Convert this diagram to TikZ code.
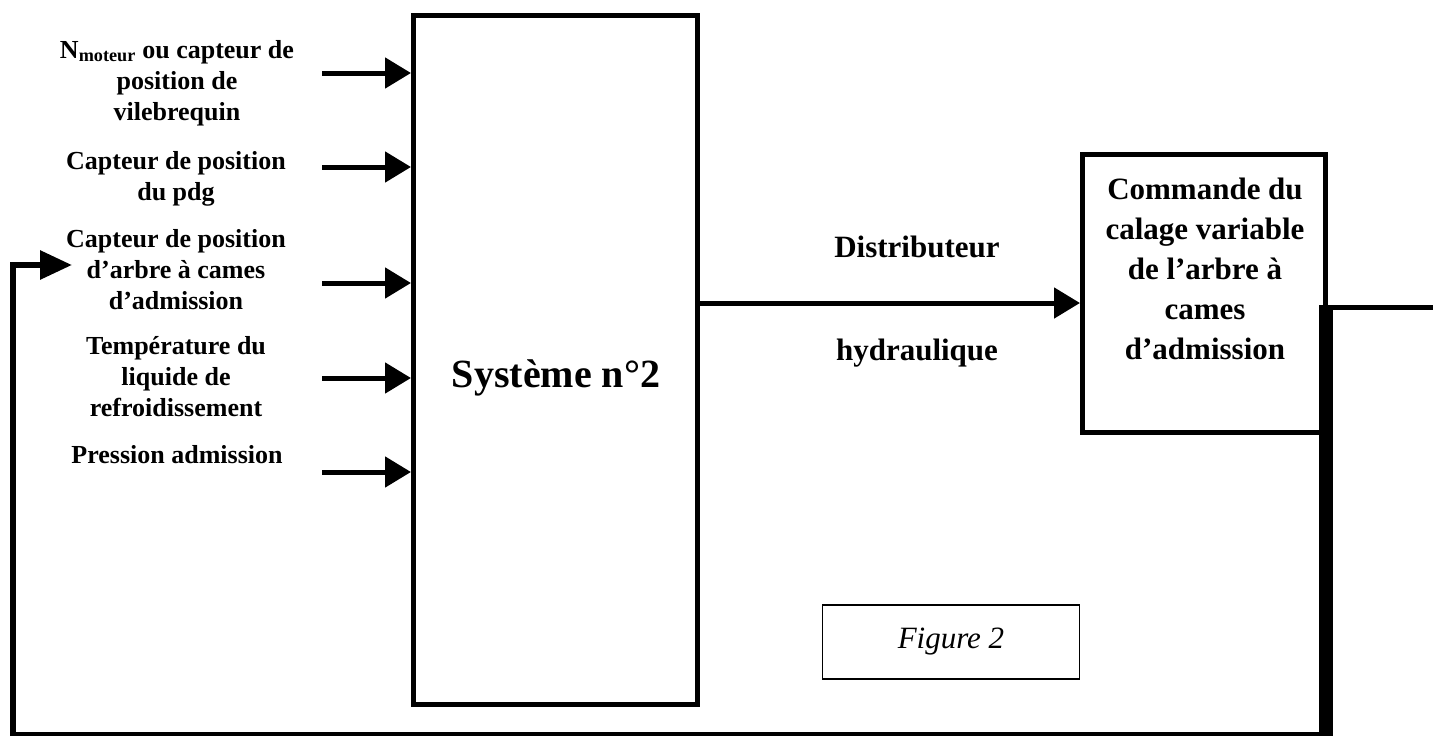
\documentclass[tikz,border=0pt]{standalone}
\usepackage{fontspec}
\setmainfont{Liberation Serif}
\usetikzlibrary{arrows.meta}

\begin{document}
\begin{tikzpicture}[x=1pt, y=-1pt,
    box/.style={draw, line width=5pt, inner sep=0pt},
    lbl/.style={font=\bfseries\fontsize{26}{31}\selectfont, align=center},
    wire/.style={line width=5pt},
    feed/.style={-{Triangle[length=26pt, width=30pt]}, line width=5pt}]
     \useasboundingbox (0,0) rectangle (1433,736);

     % blocs
     \node[box, minimum width=284pt, minimum height=689pt] (S) at (555.5,360) {};
     \node[font=\bfseries\fontsize{40}{48}\selectfont] (St) at (556,378) {Système n°2};
     \node[box, minimum width=243pt, minimum height=278pt] (C) at (1204,293.5) {};
     \node[font=\bfseries\fontsize{31}{40}\selectfont, align=center] (Ct) at (1205,269)
          {Commande du\\calage variable\\de l'arbre à\\cames\\d'admission};
     \node[draw, line width=1.5pt, minimum width=257pt, minimum height=74pt,
           font=\itshape\fontsize{31}{36}\selectfont] (F) at (951,642) {Figure 2};

     % entrees
     \node[lbl] (L1) at (177,83) {N\textsubscript{moteur} ou capteur de\\position de\\vilebrequin};
     \node[lbl] (L2) at (176,179) {Capteur de position\\du pdg};
     \node[lbl] (L3) at (176,270) {Capteur de position\\d'arbre à cames\\d'admission};
     \node[lbl] (L4) at (176,377) {Température du\\liquide de\\refroidissement};
     \node[lbl] (L5) at (177,455) {Pression admission};

     \foreach \y [count=\i] in {73,167,283,378,472} {
          \coordinate (i\i) at (322,\y);
          \draw[feed] (i\i) -- (i\i -| S.west);
     }

     % distributeur
     \node[font=\bfseries\fontsize{31}{36}\selectfont] (D1) at (917,247) {Distributeur};
     \node[font=\bfseries\fontsize{31}{36}\selectfont] (D2) at (917,353) {hydraulique};
     \coordinate (M) at (700,303);
     \draw[feed] (M) -- (M -| C.west);

     % sortie et retour
     \coordinate (O) at (1433,307);
     \draw[wire] (O -| C.east) -- (O);
     \coordinate (R1) at (1326,305);
     \coordinate (R2) at (1326,734);
     \coordinate (B) at (13,734);
     \coordinate (T) at (13,265);
     \coordinate (A) at (72,265);
     \draw[line width=14pt] (R1) -- (R2 |- 0,736);
     \draw[line width=4pt] (R2) -- (B);
     \draw[feed, line width=6pt, -{Triangle[length=32pt, width=28pt]}] (B |- 0,736) -- (T) -- (A);
\end{tikzpicture}
\end{document}
